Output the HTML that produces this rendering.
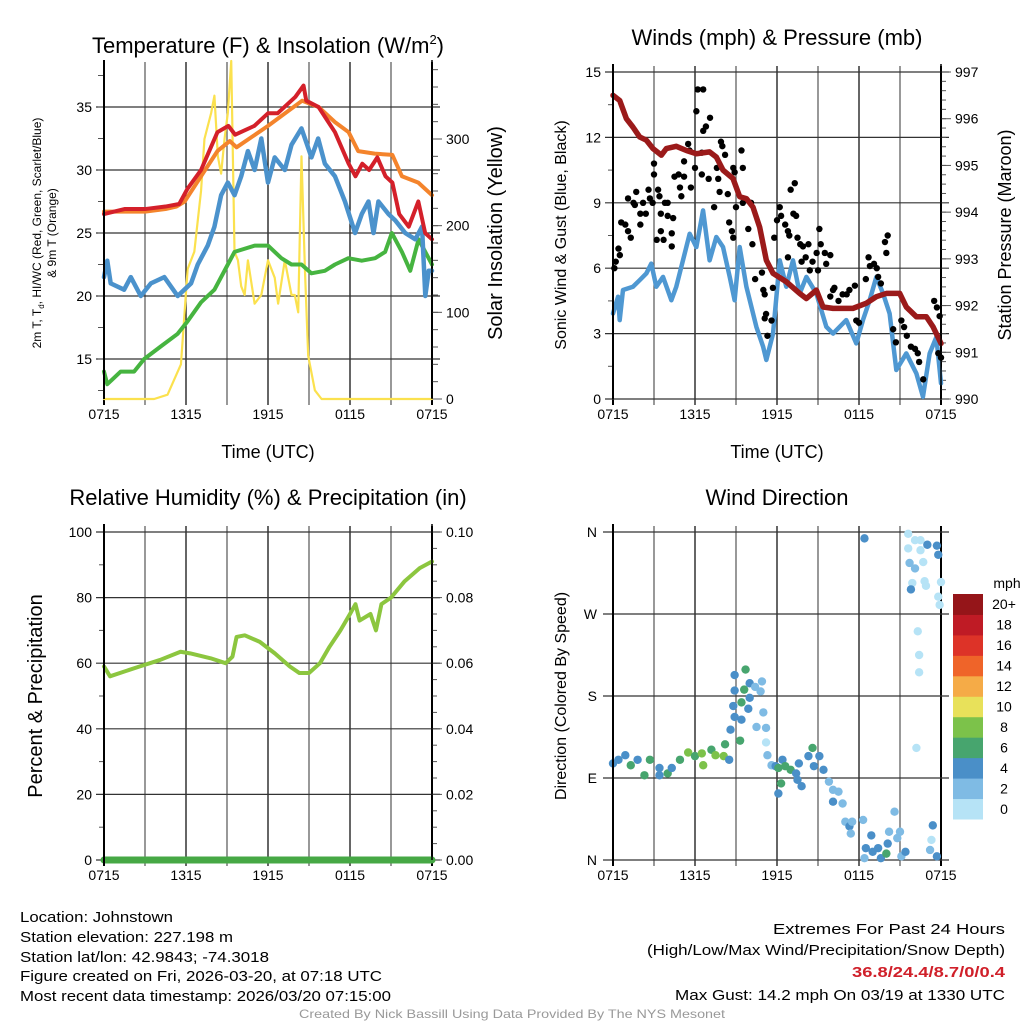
<!DOCTYPE html>
<html><head><meta charset="utf-8"><style>
html,body{margin:0;padding:0;background:#fff;}
svg{display:block;font-family:"Liberation Sans",sans-serif;}
</style></head><body>
<svg id="fig" width="1024" height="1024" viewBox="0 0 1024 1024" xmlns="http://www.w3.org/2000/svg">
<g id="p1"></g>
<g id="p2"></g>
<g id="p3"></g>
<g id="p4"></g>
<g font-size="15">
<text x="20" y="922" textLength="153" lengthAdjust="spacingAndGlyphs">Location: Johnstown</text>
<text x="20" y="942" textLength="213" lengthAdjust="spacingAndGlyphs">Station elevation: 227.198 m</text>
<text x="20" y="962" textLength="249" lengthAdjust="spacingAndGlyphs">Station lat/lon: 42.9843; -74.3018</text>
<text x="20" y="981" textLength="362" lengthAdjust="spacingAndGlyphs">Figure created on Fri, 2026-03-20, at 07:18 UTC</text>
<text x="20" y="1001" textLength="371" lengthAdjust="spacingAndGlyphs">Most recent data timestamp: 2026/03/20 07:15:00</text>
<text x="1005" y="934" text-anchor="end" textLength="232" lengthAdjust="spacingAndGlyphs">Extremes For Past 24 Hours</text>
<text x="1005" y="955" text-anchor="end" textLength="358" lengthAdjust="spacingAndGlyphs">(High/Low/Max Wind/Precipitation/Snow Depth)</text>
<text x="1005" y="977" text-anchor="end" font-weight="bold" fill="#d0202a" textLength="153" lengthAdjust="spacingAndGlyphs">36.8/24.4/8.7/0/0.4</text>
<text x="1005" y="1000" text-anchor="end" textLength="330" lengthAdjust="spacingAndGlyphs">Max Gust: 14.2 mph On 03/19 at 1330 UTC</text>
<text x="512" y="1018" text-anchor="middle" font-size="12" fill="#999" textLength="426" lengthAdjust="spacingAndGlyphs">Created By Nick Bassill Using Data Provided By The NYS Mesonet</text>
</g>
</svg>
<script>
// ---------- data ----------
const xTickLabels = ["0715","1315","1915","0115","0715"];
// temperature panel
const redH = [0,1.5,3,4.5,5.5,6.1,7.1,8.3,9.1,9.6,11,12,12.7,14,14.6,14.8,15.7,16.9,17.9,18.4,18.9,19.4,20,20.6,21.1,21.6,22.3,23,23.5,24];
const redV = [26.5,26.9,26.9,27.1,27.3,28.5,30,33,33.5,32.8,33.5,34.5,34.5,35.8,36.7,35.5,35,33,30.5,29.5,30.5,30,31,29.5,29,26.5,25.5,27.5,25,24.5];
const orangeH = [0,1.5,3,4.5,5.3,5.9,7.1,8.3,9.2,9.7,12,14.5,15.7,16.9,17.9,18.6,19.8,21.1,21.8,23,24];
const orangeV = [26.7,26.7,26.7,26.9,27.1,27.5,29.5,31.5,32.3,31.8,33.5,35.5,35,33.8,33,31.5,31.3,31.2,29.5,29,28];
const blueH = [0,.24,.49,1.47,1.96,2.69,3.43,4.41,5.39,5.88,6.37,6.86,7.59,8.08,8.57,9.06,9.55,10.04,10.53,11.02,11.51,12,12.49,13.23,13.72,14.45,15.18,15.67,16.16,16.9,17.63,18.37,18.86,19.35,19.72,20.08,20.82,21.31,22.04,22.78,23.27,23.51,23.76,24];
const blueV = [21.5,22.8,21,20.5,21.5,20,21,21.5,20,20.5,21,22.5,24,25.5,28,29,28,29.5,31.5,30,32.5,29,31,30,32,33.3,31,32.5,30.5,29.5,27.5,25,26.5,27.5,25,27.5,26.5,26,25,24.5,25.5,20,22,22];
const greenH = [0,.24,1.22,2.2,2.94,4.16,5.39,6.12,7.1,8.08,9.06,9.55,11.02,12,12.98,13.72,14.45,15.18,16.16,16.9,17.88,18.86,19.84,20.57,21.06,21.8,22.41,23.02,23.51,24];
const greenV = [14,13,14,14,15,16,17,18,19.5,20.5,22.5,23.5,24,24,23,22.5,22.5,21.8,22,22.5,23,22.8,23,23.5,25,23.5,22,24.5,23.5,22.5];
const solarH = [0,3.67,4.65,5.63,6.12,6.61,7.1,7.35,7.84,8.08,8.33,8.57,8.82,9.06,9.31,9.55,9.8,10.04,10.29,10.53,11.02,11.51,12,12.49,12.74,13.23,13.72,13.96,14.21,14.45,14.7,14.94,15.43,15.92,24];
const solarV = [0,0,5,40,150,170,240,300,330,350,280,260,300,330,390,170,160,130,120,160,110,120,160,140,110,160,120,120,100,280,150,50,10,0,0];
// wind panel
const sonicH = [0,.37,.49,.73,1.46,1.95,2.44,2.8,3.17,3.66,4.27,4.63,5.12,5.61,6.1,6.59,7.07,7.56,8.05,8.54,8.9,9.27,9.76,10.49,10.98,11.22,11.71,12.2,12.68,13.17,13.66,14.15,14.88,15.61,16.1,17.07,17.8,18.29,18.78,19.27,19.76,20.24,20.73,21.46,22.2,22.68,23.17,23.66,24];
const sonicV = [3.92,4.69,3.62,5.0,5.15,5.45,5.76,6.21,5.15,5.6,4.53,5.15,6.36,7.58,6.97,8.65,6.36,7.43,6.97,5.6,4.53,6.97,5.15,3.31,2.41,1.79,3.0,6.36,5.15,6.36,4.84,5.6,4.84,3.31,3.0,3.62,2.55,3.62,4.53,5.6,4.84,3.92,1.33,2.09,1.17,0.1,2.09,2.84,0.72];
const gustH = [.1,.2,.4,.5,.6,.9,1.1,1.3,1.1,1.5,1.6,1.7,2.0,2.0,2.2,2.4,2.6,2.7,2.9,3.0,3.0,3.2,3.3,3.4,3.5,3.5,3.7,3.8,4.0,4.0,4.3,4.3,4.4,4.5,4.8,4.9,5.0,5.2,5.2,5.5,5.6,5.7,6.0,6.1,6.2,6.5,6.6,6.5,6.6,6.8,7.0,7.1,7.4,7.6,7.7,7.9,8.0,8.2,7.8,8.4,8.8,8.9,9.0,8.5,8.7,8.8,9.4,9.5,9.5,9.9,10.1,10.2,10.4,10.9,11.0,11.1,11.2,11.1,11.3,11.6,11.7,11.8,12.2,12.3,12.0,12.6,12.8,12.8,12.9,13.0,13.3,13.2,13.4,13.5,13.7,13.8,13.9,14.1,14.3,14.4,14.6,14.9,15.0,15.1,15.2,15.5,15.6,15.9,15.9,16.1,16.2,16.5,16.8,17.1,17.3,17.7,17.8,18.0,18.5,18.7,18.8,19.1,19.3,19.4,19.6,19.9,20.0,20.1,20.5,20.7,21.1,21.3,21.5,21.8,22.1,22.3,22.4,22.7,23.5,23.7,23.9,23.8,24.0];
const gustV = [6.0,6.3,6.9,6.6,8.1,8.0,7.7,7.4,9.2,9.0,8.9,9.5,8.5,8.0,9.0,8.5,9.6,9.2,9.0,10.3,10.8,7.3,9.6,9.3,8.5,7.7,7.3,9.0,9.0,8.4,7.6,7.0,8.3,10.2,10.3,9.7,9.3,10.9,10.2,11.7,11.4,9.7,10.6,13.2,14.2,11.3,14.2,10.3,12.3,12.5,10.1,12.9,8.8,10.6,10.1,11.8,11.6,11.2,9.5,9.4,10.6,10.4,8.8,8.1,7.7,7.4,11.4,10.6,9.0,7.8,9.0,7.1,5.5,5.8,5.0,4.8,3.9,3.7,2.9,3.6,5.1,7.4,8.8,8.4,8.2,8.0,7.7,6.5,7.5,9.6,9.9,8.5,8.4,7.4,7.1,6.3,7.0,6.5,7.1,5.9,6.3,6.7,5.9,7.8,7.1,6.7,6.2,6.6,4.7,5.0,5.1,4.5,4.8,4.8,5.0,5.2,3.6,3.5,5.5,6.5,6.1,6.2,6.0,5.6,5.3,7.2,6.7,7.5,3.2,2.6,3.6,3.3,2.9,2.4,2.3,2.1,1.7,0.9,4.5,4.2,3.8,2.1,1.9];
const presH = [0,.49,.98,1.46,1.95,2.44,2.93,3.54,3.9,4.63,5.37,6.1,7.07,7.56,8.05,8.78,9.27,9.76,10.24,10.73,11.22,11.71,12.68,13.66,14.15,14.88,15.37,16.1,17.56,18.54,19.27,20,20.98,21.46,22.2,22.93,23.41,24];
const presV = [996.5,996.39,996.0,995.82,995.61,995.54,995.36,995.22,995.36,995.41,995.32,995.25,995.29,995.18,994.9,994.72,994.33,994.29,994.11,993.68,992.97,992.69,992.51,992.26,992.15,992.33,991.97,991.94,991.94,992.05,992.19,992.26,992.26,991.97,991.76,991.76,991.55,991.19];
// humidity panel
const rhH = [0,.44,2.6,4.1,5.6,6.3,7.8,8.9,9.4,9.7,10.3,11.4,12.5,13.6,14.3,15,15.8,16.5,17.3,18,18.4,18.7,19.5,19.9,20.3,21,22,23.1,24];
const rhV = [59,56,59,61,63.5,63,61.5,60,62,68,68.5,66.5,63,59,57,57,60,65,70,75,78,73,75,70,78,80,85,89,91];
const precipH = [0,24];
const precipV = [0,0];
// wind direction panel
const dirH = [0.0,0.4,0.9,1.3,1.8,2.3,2.7,3.4,3.4,4.0,4.3,4.9,5.5,6.0,6.5,6.6,7.2,7.5,8.1,8.2,8.5,8.6,8.9,8.8,8.9,8.9,9.4,9.3,9.4,9.6,9.7,10.0,10.0,9.9,10.4,10.8,10.9,10.5,11.2,11.0,11.2,11.3,11.6,11.9,12.1,12.3,12.1,12.4,12.6,13.0,13.4,13.6,13.5,13.8,14.3,14.6,14.7,15.1,15.4,15.8,16.1,16.5,16.1,16.8,17.0,17.3,17.5,18.3,17.4,18.4,18.9,18.5,19.0,19.4,19.6,20.0,20.1,20.2,20.6,20.8,21.0,21.1,21.4,23.4,23.3,23.2,23.7,18.4,21.6,22.1,22.5,23.0,23.7,23.8,21.6,22.5,21.7,22.1,22.7,21.9,22.8,22.9,21.8,24.0,23.8,23.9,22.3,22.4,22.4,22.2];
const dirDeg = [106,110,115,104,110,93,110,101,93,95,101,110,118,114,117,104,121,115,114,127,110,143,157,169,186,203,154,131,173,187,209,194,178,166,190,185,196,146,145,162,129,115,104,103,101,84,73,110,103,99,95,106,88,81,114,123,103,114,99,86,77,75,64,62,42,37,42,44,29,2,27,13,9,13,2,7,18,31,53,24,31,4,9,38,22,11,4,353,358,351,351,346,345,335,342,340,326,320,327,304,306,301,297,305,289,280,251,225,206,123];
const dirSpd = [4,4,4,6,4,6,6,4,4,6,4,6,8,6,8,8,6,8,8,6,4,4,4,4,4,4,4,6,6,6,6,4,4,4,2,2,2,2,2,2,0,2,2,4,6,6,4,4,6,6,4,4,4,4,4,6,4,4,4,2,2,2,4,2,2,4,2,2,2,2,4,4,4,4,4,6,4,2,2,2,2,2,4,4,0,2,4,4,0,0,0,4,4,4,0,0,2,2,0,0,0,0,4,0,0,0,0,0,0,0];
const cbLabels = ["0","2","4","6","8","10","12","14","16","18","20+"];
const cbColors = ["#b6e3f6","#7fbbe4","#4a8fc8","#47a56e","#7cc24a","#e8e15a","#f5ab47","#ef6429","#dd3328","#bf1b25","#951519"];

// ---------- helpers ----------
const NS="http://www.w3.org/2000/svg";
function mk(parent,tag,attrs,text){const e=document.createElementNS(NS,tag);for(const k in attrs)e.setAttribute(k,attrs[k]);if(text!==undefined)e.textContent=text;parent.appendChild(e);return e;}
function lin(d0,d1,r0,r1){return v=>r0+(v-d0)*(r1-r0)/(d1-d0);}

function frame(g,L,T,R,B,title,titleY){
  const xs=lin(0,24,L,R);
  for(let h=0;h<=24;h+=3){
    const ln=mk(g,'line',{x1:xs(h),x2:xs(h),y1:T-6,y2:B+6,stroke:(h%6===0)?'#000':'#555','stroke-width':h===0||h===24?2:1.2});
    
    
  }
  xTickLabels.forEach((s,i)=>{
    const t=mk(g,'text',{x:xs(i*6),y:B+20,'text-anchor':'middle','font-size':14},s);
    
    
  });
  if(title){
  const tt=mk(g,'text',{x:(L+R)/2,y:titleY,'text-anchor':'middle','font-size':22},title);
  
  }
  return xs;
}
function hgrid(g,L,R,ys,vals){
  vals.forEach((v)=>{
    const ln=mk(g,'line',{x1:L-8,x2:R+8,y1:ys(v),y2:ys(v),stroke:'#333','stroke-width':1.2});
    
    
  });
}
function ticks(g,x,ys,vals,labels,dir,lblx,anchor,len){
  vals.forEach((v,i)=>{
    mk(g,'line',{x1:x,x2:x+dir*len,y1:ys(v),y2:ys(v),stroke:'#555','stroke-width':1});
    if(labels&&labels[i]!==null){const t=mk(g,'text',{x:lblx,y:ys(v)+5,'text-anchor':anchor,'font-size':14},labels[i]);
      
      }
  });
}
function line(g,H,V,xs,ys,color,w,name){
  const p=mk(g,'polyline',{points:H.map((h,i)=>xs(h)+','+ys(V[i])).join(' '),fill:'none',stroke:color,'stroke-width':w,'stroke-linejoin':'round','stroke-linecap':'round'});
  
  
}
function axisLine(g,x1,y1,x2,y2,w){mk(g,'line',{x1,y1,x2,y2,stroke:'#000','stroke-width':w||2});}
function vlabel(g,x,y,txt,size,name){
  const t=mk(g,'text',{x:0,y:0,transform:`translate(${x},${y}) rotate(-90)`,'text-anchor':'middle','font-size':size},txt);
  
  
  return t;
}

// ---------- panel 1 ----------
(function(){
  const g=document.getElementById('p1');const L=104,R=432,T=68,B=399;
  const ys=lin(15,35,359,107), ysR=lin(0,300,399,139);
  const xs=frame(g,L,T,R,B,'',0);
  const tt=mk(g,'text',{x:268,y:53,'text-anchor':'middle','font-size':22},'Temperature (F) & Insolation (W/m');
  mk(tt,'tspan',{dy:-9,'font-size':13},'2');
  mk(tt,'tspan',{dy:9},')');
  
  
  hgrid(g,L,R,ys,[15,20,25,30,35]);
  ticks(g,L,ys,[15,20,25,30,35],["15","20","25","30","35"],-1,L-12,'end',0);
  const minors=[];for(let v=12.5;v<=37.5;v+=2.5)minors.push(v);
  ticks(g,L,ys,minors,null,-1,0,'end',6);
  const rm=[];for(let v=0;v<=380;v+=20)rm.push(v);
  ticks(g,R,ysR,rm,null,1,0,'start',6);
  ticks(g,R,ysR,[0,100,200,300],["0","100","200","300"],1,R+14,'start',10);
  line(g,solarH,solarV,xs,ysR,'#fbe14e',2.2,'solar-insolation-line');
  line(g,greenH,greenV,xs,ys,'#46b440',4,'dewpoint-line');
  line(g,blueH,blueV,xs,ys,'#4b92cc',4.5,'windchill-line');
  line(g,orangeH,orangeV,xs,ys,'#f4842c',4,'temp-9m-line');
  line(g,redH,redV,xs,ys,'#d4202a',4,'temp-2m-line');
  axisLine(g,L,T-8,L,B);axisLine(g,R,T-8,R,B,1.5);
  const yl=mk(g,'text',{transform:'translate(41,233) rotate(-90)','text-anchor':'middle','font-size':12},'');
  yl.innerHTML='2m T, T<tspan font-size="8" dy="3">d</tspan><tspan dy="-3">, HI/WC (Red, Green, Scarlet/Blue)</tspan>';
  
  
  vlabel(g,56,233,'& 9m T (Orange)',12,'y-axis-title-left-2');
  vlabel(g,502,233,'Solar Insolation (Yellow)',20,'y-axis-title-right');
  const xt=mk(g,'text',{x:268,y:458,'text-anchor':'middle','font-size':18},'Time (UTC)');
  
  
})();

// ---------- panel 2 ----------
(function(){
  const g=document.getElementById('p2');const L=613,R=941,T=72,B=399;
  const ys=lin(0,15,399,72), ysR=lin(990,997,399,72);
  const xs=frame(g,L,T,R,B,'Winds (mph) & Pressure (mb)',45);
  hgrid(g,L,R,ys,[0,3,6,9,12,15]);
  ticks(g,L,ys,[0,3,6,9,12,15],["0","3","6","9","12","15"],-1,L-12,'end',0);
  const mn=[];for(let v=1.5;v<15;v+=3)mn.push(v);
  ticks(g,L,ys,mn,null,-1,0,'end',5);
  const rm=[];for(let v=990;v<=997;v+=0.2)rm.push(v);
  ticks(g,R,ysR,rm,null,1,0,'start',5);
  ticks(g,R,ysR,[990,991,992,993,994,995,996,997],["990","991","992","993","994","995","996","997"],1,R+14,'start',10);
  line(g,sonicH,sonicV,xs,ys,'#4f98d2',4.5,'sonic-wind-line');
  gustH.forEach((h,i)=>{
    const c=mk(g,'circle',{cx:xs(h),cy:ys(gustV[i]),r:3.2,fill:'#000'});
    
    
  });
  line(g,presH,presV,xs,ysR,'#9b1a1a',5.5,'pressure-line');
  axisLine(g,L,T-8,L,B);axisLine(g,R,T-8,R,B,1.5);
  vlabel(g,566,235,'Sonic Wind & Gust (Blue, Black)',16,'y-axis-title-left');
  vlabel(g,1011,235,'Station Pressure (Maroon)',18,'y-axis-title-right');
  const xt=mk(g,'text',{x:777,y:458,'text-anchor':'middle','font-size':18},'Time (UTC)');
  
  
})();

// ---------- panel 3 ----------
(function(){
  const g=document.getElementById('p3');const L=104,R=432,T=532,B=860;
  const ys=lin(0,100,860,532), ysR=lin(0,0.1,860,532);
  const xs=frame(g,L,T,R,B,'Relative Humidity (%) & Precipitation (in)',505);
  hgrid(g,L,R,ys,[0,20,40,60,80,100]);
  ticks(g,L,ys,[0,20,40,60,80,100],["0","20","40","60","80","100"],-1,L-12,'end',0);
  const mn=[];for(let v=10;v<100;v+=20)mn.push(v);
  ticks(g,L,ys,mn,null,-1,0,'end',5);
  const rm=[];for(let v=0;v<=0.1001;v+=0.005)rm.push(v);
  ticks(g,R,ysR,rm,null,1,0,'start',5);
  ticks(g,R,ysR,[0,0.02,0.04,0.06,0.08,0.1],["0.00","0.02","0.04","0.06","0.08","0.10"],1,R+14,'start',10);
  line(g,rhH,rhV,xs,ys,'#8cc63f',4,'relative-humidity-line');
  line(g,precipH,precipV,xs,ysR,'#46a845',7,'precipitation-line');
  axisLine(g,L,T-8,L,B+6);axisLine(g,R,T-8,R,B,1.5);
  vlabel(g,42,696,'Percent & Precipitation',20,'y-axis-title-left');
})();

// ---------- panel 4 ----------
(function(){
  const g=document.getElementById('p4');const L=613,R=941,T=532,B=860;
  const ys=lin(0,360,860,532);
  const xs=frame(g,L,T,R,B,'Wind Direction',505);
  hgrid(g,L-2,R,ys,[0,90,180,270,360]);
  ticks(g,L,ys,[0,90,180,270,360],["N","E","S","W","N"],-1,L-16,'end',0);
  dirH.forEach((h,i)=>{
    const c=mk(g,'circle',{cx:xs(h),cy:ys(dirDeg[i]),r:4.2,fill:cbColors[Math.min(10,Math.round(dirSpd[i]/2))]});
    
    
  });
  axisLine(g,L,T-8,L,B+6);
  vlabel(g,566,696,'Direction (Colored By Speed)',16,'y-axis-title-left');
  const cbT=594,cbB=819,cellH=(cbB-cbT)/cbColors.length;
  cbColors.forEach((c,i)=>{
    const r=mk(g,'rect',{x:953,y:cbB-(i+1)*cellH,width:30,height:cellH+0.5,fill:c});
    
    
    const t=mk(g,'text',{x:1004,y:cbB-(i+0.5)*cellH+5,'text-anchor':'middle','font-size':14},cbLabels[i]);
    
    
  });
  const u=mk(g,'text',{x:1007,y:588,'text-anchor':'middle','font-size':14},'mph');
  
  
})();
</script>
</body></html>
